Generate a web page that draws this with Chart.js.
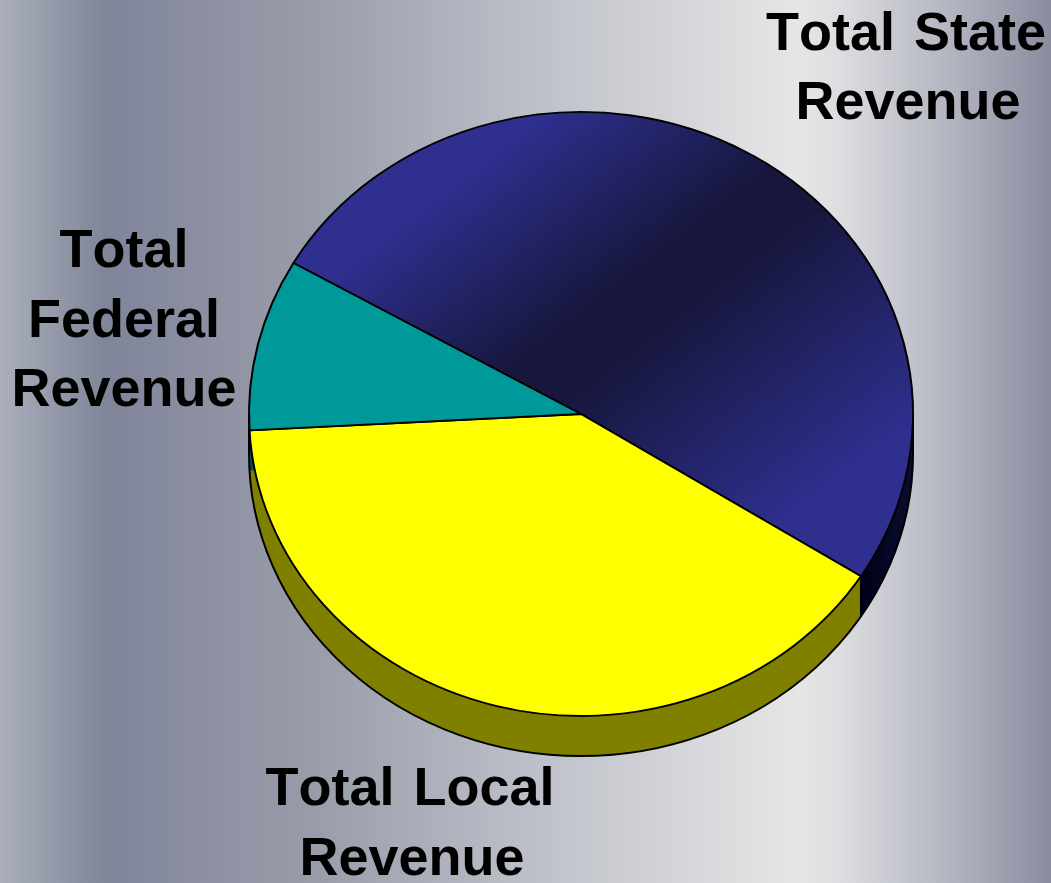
<!DOCTYPE html>
<html><head><meta charset="utf-8">
<style>html,body{margin:0;padding:0;background:#999;overflow:hidden}canvas{display:block}</style>
<script src="https://cdn.jsdelivr.net/npm/chart.js@4"></script>
</head><body>
<canvas id="c" width="1051" height="883"></canvas>
<script>
const categories = ['Total State Revenue', 'Total Local Revenue', 'Total Federal Revenue'];
const values = [50.7, 40.1, 9.2];
const labelLines = [['Total State', 'Revenue'], ['Total Local', 'Revenue'], ['Total', 'Federal', 'Revenue']];

const SQUASH = 302 / 332, DEPTH = 40, CX = 581, CY = 414;
const labelPos = [[[906, 35], [908, 104]], [[410, 790], [412, 860]], [[124, 252], [124, 322], [124, 391]]];
const canvas = document.getElementById('c');
const ctx = canvas.getContext('2d');
const stateGrad = ctx.createLinearGradient(463, 34, 877, 522);
stateGrad.addColorStop(0, '#2f2f8f');
stateGrad.addColorStop(0.14, '#2f2f8f');
stateGrad.addColorStop(0.44, '#17173e');
stateGrad.addColorStop(0.54, '#17173e');
stateGrad.addColorStop(0.92, '#2f2f8f');
stateGrad.addColorStop(1, '#2f2f8f');
const stateSide = ctx.createLinearGradient(860, 0, 915, 0);
stateSide.addColorStop(0, '#00001a');
stateSide.addColorStop(1, '#0c0c30');
const topColors = [stateGrad, '#ffff00', '#009999'];
const sideColors = [stateSide, '#808000', '#004d4d'];

const backdrop = {
  id: 'backdrop',
  beforeDraw(chart) {
    const c = chart.ctx, w = chart.width, g = c.createLinearGradient(0, 0, w, 0);
    [[0, '#abafbb'], [0.1, '#7e8698'], [0.115, '#82869b'], [0.3, '#999daa'], [0.5, '#bcbfc8'],
     [0.66, '#d6d7da'], [0.76, '#e6e6e6'], [0.8, '#dcdde0'], [0.9, '#b4b6c1'], [1, '#8a8d9f']]
      .forEach(s => g.addColorStop(s[0], s[1]));
    c.fillStyle = g;
    c.fillRect(0, 0, w, chart.height);
  }
};

const pie3d = {
  id: 'pie3d',
  beforeDatasetsDraw(chart) {
    const c = chart.ctx, arcs = chart.getDatasetMeta(0).data;
    c.save();
    c.translate(CX, CY); c.scale(1, SQUASH); c.translate(-CX, -CY);
    const off = DEPTH / SQUASH;
    arcs.forEach((a, i) => {
      const p = a.getProps(['x', 'y', 'startAngle', 'endAngle', 'outerRadius']);
      c.fillStyle = sideColors[i];
      for (let d = off; d > 0; d -= 0.5) {
        c.beginPath();
        c.moveTo(p.x, p.y + d);
        c.arc(p.x, p.y + d, p.outerRadius, p.startAngle, p.endAngle);
        c.closePath();
        c.fill();
      }
    });
    const b = arcs[0].getProps(['x', 'y', 'endAngle', 'outerRadius']);
    const R = b.outerRadius;
    c.strokeStyle = '#000'; c.lineWidth = 2;
    c.beginPath();
    c.moveTo(CX + R, CY);
    c.lineTo(CX + R, CY + off);
    c.arc(CX, CY + off, R, 0, Math.PI);
    c.lineTo(CX - R, CY);
    c.stroke();
    const ex = b.x + R * Math.cos(b.endAngle), ey = b.y + R * Math.sin(b.endAngle);
    c.beginPath(); c.moveTo(ex, ey); c.lineTo(ex, ey + off); c.stroke();
  },
  afterDatasetsDraw(chart) {
    chart.ctx.restore();
    const c = chart.ctx;
    c.save();
    c.fillStyle = '#000';
    c.font = 'bold 54px "Liberation Sans", Arial, sans-serif';
    c.fontKerning = 'none';
    c.wordSpacing = '4px';
    c.textAlign = 'center';
    c.textBaseline = 'middle';
    labelLines.forEach((lines, i) => lines.forEach((t, j) => c.fillText(t, labelPos[i][j][0], labelPos[i][j][1])));
    c.restore();
  }
};

new Chart(ctx, {
  type: 'pie',
  data: { labels: categories, datasets: [{ data: values, backgroundColor: topColors, borderColor: '#000', borderWidth: 2, borderJoinStyle: 'round' }] },
  options: {
    responsive: false, animation: false,
    rotation: 300, radius: 332,
    layout: { padding: { left: 111, top: 0, right: 0, bottom: 55 } },
    plugins: { legend: { display: false }, tooltip: { enabled: false } }
  },
  plugins: [backdrop, pie3d]
});
</script>
</body></html>
